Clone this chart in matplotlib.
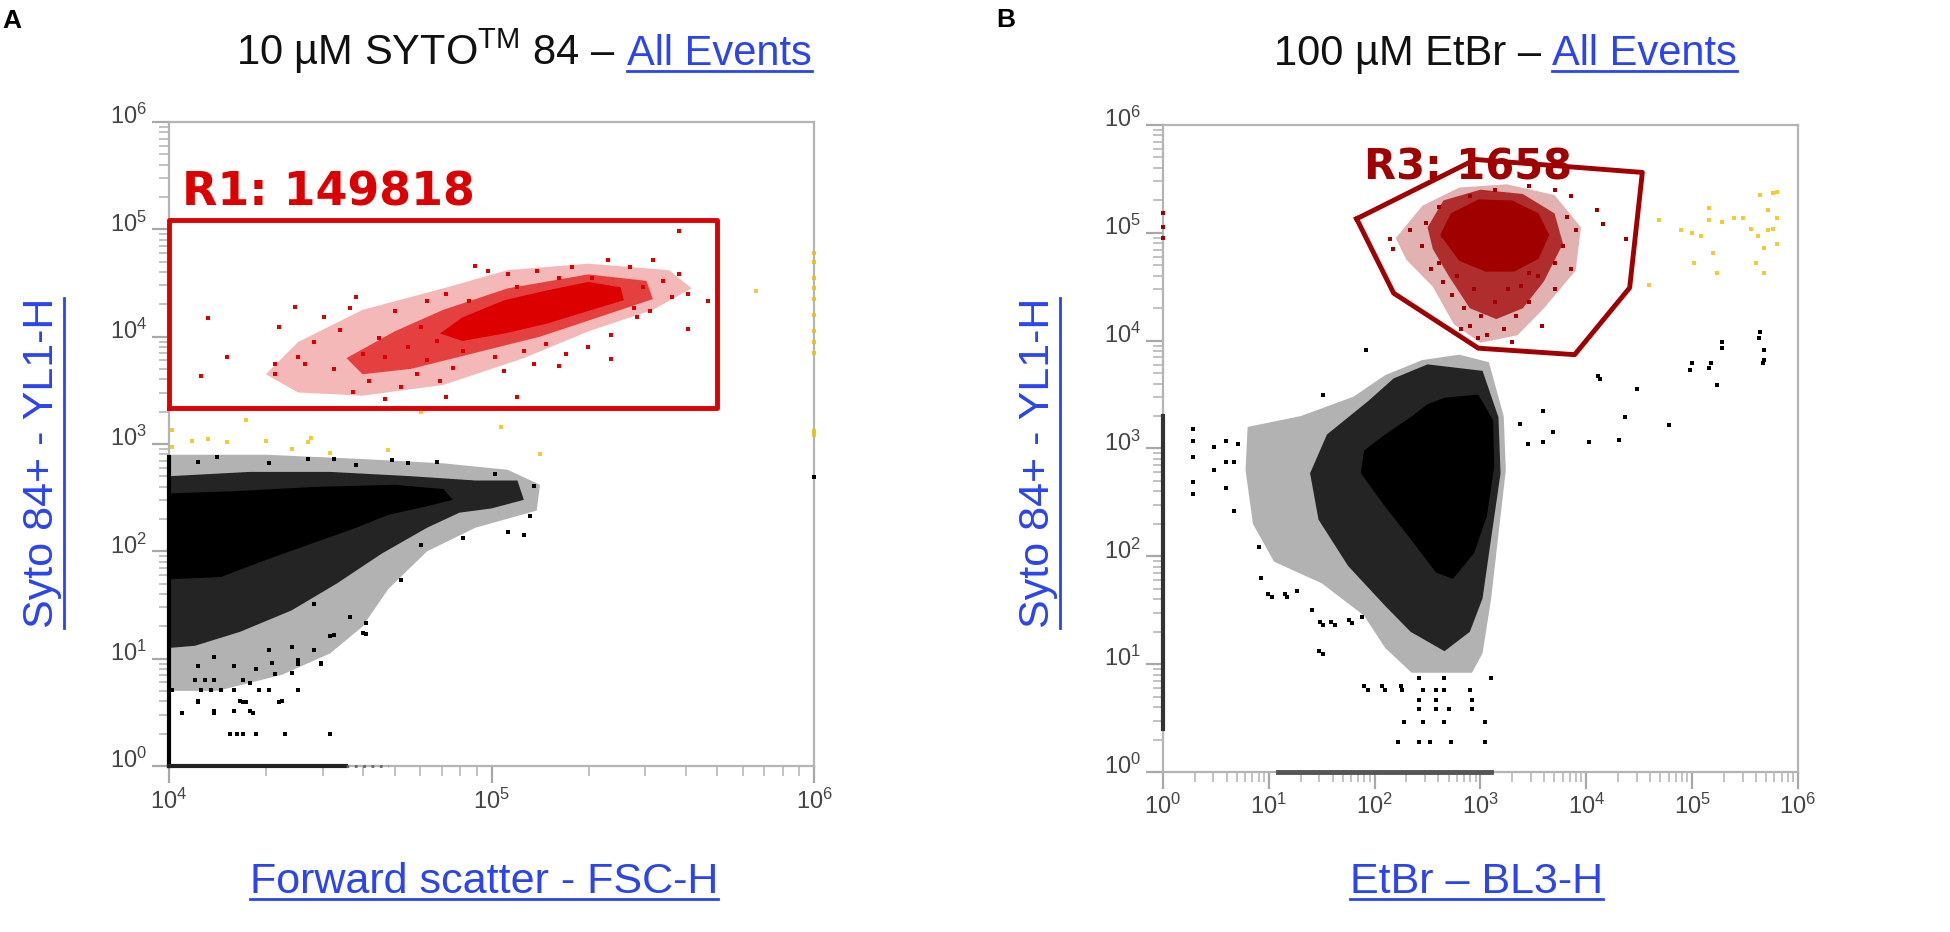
import numpy as np
import matplotlib.pyplot as plt
from matplotlib.lines import Line2D
from matplotlib.ticker import FixedLocator, NullFormatter
from matplotlib.transforms import ScaledTranslation

plt.rcParams['font.family'] = ['Liberation Sans', 'DejaVu Sans']
plt.rcParams['mathtext.fontset'] = 'custom'
plt.rcParams['mathtext.rm'] = 'Liberation Sans'
plt.rcParams['mathtext.it'] = 'Liberation Sans:italic'
plt.rcParams['mathtext.bf'] = 'Liberation Sans:bold'

# all values below are log10 readings: [log x, log y]

# panel A - SYTO 84, FSC-H vs YL1-H
a_black_core = [[4.00, 2.54], [4.20, 2.56], [4.45, 2.60], [4.70, 2.62], [4.85, 2.58],
                [4.88, 2.48], [4.80, 2.42], [4.68, 2.34], [4.58, 2.22], [4.44, 2.07],
                [4.30, 1.92], [4.16, 1.76], [4.00, 1.74]]
a_black_mid = [[4.00, 2.70], [4.25, 2.74], [4.50, 2.74], [4.75, 2.70], [4.95, 2.66],
               [5.08, 2.66], [5.10, 2.48], [5.00, 2.40], [4.90, 2.36], [4.80, 2.22],
               [4.66, 1.98], [4.52, 1.70], [4.38, 1.45], [4.22, 1.25], [4.08, 1.12],
               [4.00, 1.10]]
a_black_light = [[4.00, 2.90], [4.30, 2.90], [4.60, 2.86], [4.85, 2.82], [5.05, 2.76],
                 [5.15, 2.62], [5.14, 2.38], [4.95, 2.22], [4.80, 2.00], [4.68, 1.65],
                 [4.60, 1.30], [4.50, 1.05], [4.35, 0.85], [4.15, 0.70], [4.00, 0.70]]
a_black_pts = [[4.09, 2.83], [4.15, 2.88], [4.31, 2.82], [4.43, 2.86], [4.51, 2.86],
               [4.58, 2.80], [4.69, 2.85], [4.74, 2.82], [4.83, 2.83], [5.01, 2.72],
               [5.13, 2.61], [5.12, 2.33], [5.05, 2.18], [5.10, 2.15], [4.91, 2.12],
               [4.78, 2.06], [4.72, 1.73], [4.61, 1.33], [4.61, 1.23], [4.51, 1.22],
               [4.47, 0.95], [4.40, 0.95], [4.33, 0.86], [4.25, 0.77], [4.31, 0.71],
               [4.20, 0.71], [4.13, 0.71], [4.09, 0.61], [4.11, 0.80], [4.22, 0.61],
               [4.35, 0.61], [4.14, 0.51], [4.20, 0.51], [4.25, 0.51], [4.38, 1.11],
               [4.45, 1.08], [4.56, 1.39], [4.45, 1.51],
               [4.09, 0.93], [4.14, 0.80], [4.20, 0.93], [4.23, 0.80], [4.27, 0.90],
               [4.32, 0.96], [4.38, 0.87], [4.40, 0.99], [4.47, 0.96], [4.50, 1.21],
               [4.60, 1.24], [4.14, 1.02], [4.31, 1.08], [4.08, 0.80],
               [4.01, 0.71], [4.10, 0.71], [4.16, 0.71], [4.28, 0.71], [4.40, 0.71],
               [4.09, 0.60], [4.23, 0.60], [4.24, 0.60], [4.34, 0.60],
               [4.04, 0.49], [4.14, 0.49], [4.26, 0.49],
               [4.19, 0.30], [4.21, 0.30], [4.23, 0.30], [4.27, 0.30], [4.36, 0.30],
               [4.50, 0.30], [6.00, 2.69]]
a_wall_y = [0.00, 2.88]          # events piled on x = 10^4
a_floor_x = [4.00, 4.55]         # events piled on y = 10^0
a_floor_faint_x = [4.55, 4.68]

a_red_core = [[4.84, 4.03], [4.91, 4.18], [5.04, 4.34], [5.17, 4.43], [5.30, 4.51],
              [5.40, 4.46], [5.41, 4.34], [5.30, 4.24], [5.17, 4.12], [5.04, 4.03],
              [4.91, 3.96]]
a_red_mid = [[4.55, 3.80], [4.70, 4.05], [4.85, 4.25], [5.05, 4.45], [5.30, 4.58],
             [5.48, 4.52], [5.50, 4.35], [5.35, 4.20], [5.15, 4.00], [4.95, 3.85],
             [4.75, 3.70], [4.60, 3.65]]
a_red_light = [[4.30, 3.65], [4.40, 3.95], [4.60, 4.25], [4.85, 4.45], [5.05, 4.62],
               [5.30, 4.68], [5.55, 4.62], [5.62, 4.45], [5.50, 4.25], [5.30, 4.05],
               [5.10, 3.80], [4.85, 3.55], [4.60, 3.45], [4.40, 3.48]]
a_red_pts = [[4.12, 4.17], [4.18, 3.81], [4.10, 3.63], [5.58, 4.98], [5.67, 4.33],
             [5.61, 4.07], [5.37, 3.79], [5.21, 3.73], [5.08, 3.44], [4.86, 3.44],
             [4.67, 3.42], [4.57, 3.48], [4.33, 3.65], [4.33, 3.75], [4.34, 4.09],
             [4.39, 4.28], [4.40, 3.81], [4.42, 3.75], [4.45, 3.95], [4.48, 4.18],
             [4.51, 3.70], [4.53, 4.06], [4.56, 4.27], [4.58, 4.37], [4.60, 3.84],
             [4.62, 3.59], [4.65, 3.99], [4.67, 3.81], [4.70, 4.24], [4.72, 3.53],
             [4.74, 3.90], [4.77, 3.65], [4.78, 4.09], [4.80, 4.33], [4.80, 3.78],
             [4.83, 3.96], [4.84, 3.59], [4.86, 4.40], [4.88, 3.71], [4.91, 3.87],
             [4.93, 4.33], [4.95, 4.66], [4.99, 4.61], [5.01, 3.81], [5.04, 3.68],
             [5.05, 4.58], [5.08, 4.46], [5.10, 3.87], [5.13, 3.75], [5.14, 4.61],
             [5.17, 3.93], [5.21, 4.55], [5.23, 3.84], [5.25, 4.65], [5.30, 3.90],
             [5.31, 4.55], [5.36, 4.71], [5.37, 4.02], [5.43, 4.65], [5.44, 4.27],
             [5.47, 4.46], [5.50, 4.71], [5.53, 4.52], [5.56, 4.37], [5.58, 4.58],
             [5.61, 4.40], [5.49, 4.24], [5.45, 4.18]]
a_yellow_pts = [[4.01, 2.97], [4.01, 3.13], [4.07, 3.03], [4.12, 3.05], [4.18, 3.02],
                [4.24, 3.22], [4.30, 3.03], [4.38, 2.95], [4.43, 3.02], [4.44, 3.06],
                [4.50, 2.92], [4.68, 2.94], [5.03, 3.16], [5.15, 2.91], [4.78, 3.30],
                [5.82, 4.43], [6.00, 3.08], [6.00, 3.12], [6.00, 3.85], [6.00, 3.95],
                [6.00, 4.05], [6.00, 4.20], [6.00, 4.35], [6.00, 4.45], [6.00, 4.55],
                [6.00, 4.70], [6.00, 4.78]]
a_gate_x = [4.00, 5.70]
a_gate_y = [3.34, 5.09]
a_gate_label = 'R1: 149818'

# panel B - EtBr, BL3-H vs YL1-H
b_black_core = [[2.66, 3.47], [2.98, 3.50], [3.12, 3.26], [3.13, 2.83], [3.06, 2.37],
                [2.94, 2.03], [2.74, 1.79], [2.58, 1.85], [2.34, 2.16], [2.10, 2.46],
                [1.87, 2.77], [1.90, 2.98], [2.10, 3.13], [2.34, 3.29], [2.50, 3.41]]
b_black_mid = [[2.50, 3.78], [3.02, 3.72], [3.17, 3.29], [3.19, 2.77], [3.10, 2.16],
               [3.02, 1.61], [2.90, 1.30], [2.66, 1.12], [2.34, 1.30], [2.10, 1.54],
               [1.75, 1.91], [1.47, 2.34], [1.39, 2.77], [1.55, 3.13], [1.94, 3.44],
               [2.18, 3.65]]
b_black_light = [[0.80, 3.20], [1.30, 3.30], [1.80, 3.48], [2.10, 3.68], [2.45, 3.82],
                 [2.80, 3.87], [3.08, 3.80], [3.22, 3.30], [3.24, 2.80], [3.17, 2.20],
                 [3.10, 1.60], [3.02, 1.10], [2.92, 0.92], [2.35, 0.92], [2.10, 1.15],
                 [1.90, 1.45], [1.50, 1.75], [1.05, 1.95], [0.85, 2.30], [0.78, 2.80]]
b_black_pts = [[3.37, 3.23], [3.59, 3.06], [3.69, 3.15], [4.03, 3.06], [4.31, 3.08],
               [4.37, 3.29], [4.78, 3.22], [4.13, 3.64], [4.48, 3.55], [4.98, 3.73],
               [5.16, 3.75], [5.24, 3.59], [5.28, 3.93], [5.63, 4.02], [5.67, 3.79],
               [3.45, 3.04], [3.59, 3.35], [1.92, 3.91], [1.51, 3.50], [5.64, 4.08],
               [5.68, 3.91], [5.28, 3.99], [5.18, 3.79], [5.00, 3.79], [5.68, 3.82],
               [4.11, 3.67],
               [0.28, 3.18], [0.28, 3.07], [0.28, 2.92], [0.28, 2.69], [0.28, 2.58],
               [0.48, 3.01], [0.48, 2.80], [0.60, 3.07], [0.60, 2.87], [0.67, 2.87],
               [0.67, 2.42], [0.60, 2.63], [0.71, 3.04], [0.91, 2.09], [0.93, 1.80],
               [1.03, 1.62], [1.17, 1.62], [1.27, 1.68], [1.51, 1.09], [1.51, 1.36],
               [1.63, 1.36], [1.79, 1.38], [0.99, 1.65], [1.15, 1.65], [1.41, 1.50],
               [1.48, 1.39], [1.59, 1.39], [1.76, 1.41], [1.88, 1.44], [1.47, 1.12],
               [2.42, 0.87], [2.66, 0.87], [3.10, 0.87], [1.90, 0.80], [2.07, 0.80],
               [2.25, 0.80], [1.94, 0.76], [2.10, 0.76], [2.26, 0.76], [2.46, 0.76],
               [2.58, 0.76], [2.66, 0.76], [2.90, 0.76], [2.42, 0.67], [2.58, 0.67],
               [2.92, 0.67], [2.42, 0.58], [2.58, 0.58], [2.70, 0.58], [2.92, 0.58],
               [2.28, 0.46], [2.46, 0.46], [2.66, 0.46], [3.04, 0.46], [2.22, 0.28],
               [2.42, 0.28], [2.52, 0.28], [2.72, 0.28], [3.04, 0.28]]
b_wall_y = [0.40, 3.30]          # events piled on x = 10^0
b_floor_x = [1.09, 3.10]         # events piled on y = 10^0

b_red_core = [[2.62, 4.98], [2.72, 5.18], [2.98, 5.31], [3.30, 5.30], [3.55, 5.18],
              [3.65, 4.98], [3.55, 4.76], [3.32, 4.64], [3.05, 4.64], [2.80, 4.74]]
b_red_mid = [[2.50, 5.05], [2.65, 5.30], [3.00, 5.40], [3.40, 5.36], [3.70, 5.18],
             [3.78, 4.90], [3.60, 4.55], [3.40, 4.30], [3.15, 4.20], [2.90, 4.30],
             [2.70, 4.60], [2.55, 4.85]]
b_red_light = [[2.20, 4.95], [2.45, 5.25], [2.80, 5.42], [3.25, 5.45], [3.70, 5.35],
               [3.95, 5.05], [3.90, 4.65], [3.60, 4.30], [3.35, 4.05], [3.00, 3.98],
               [2.75, 4.15], [2.55, 4.50], [2.30, 4.75]]
b_red_pts = [[2.15, 4.94], [2.17, 4.85], [2.33, 5.03], [2.45, 4.88], [2.49, 5.09],
             [2.53, 4.66], [2.61, 5.24], [2.65, 4.54], [2.73, 4.42], [2.78, 4.60],
             [2.84, 4.30], [2.90, 4.14], [2.94, 4.48], [3.01, 4.23], [3.06, 4.05],
             [3.14, 4.36], [3.22, 4.11], [3.26, 4.48], [3.34, 4.23], [3.38, 4.51],
             [3.46, 4.36], [3.54, 4.60], [3.58, 4.14], [3.70, 4.72], [3.78, 4.88],
             [3.82, 5.15], [3.86, 5.34], [3.90, 5.03], [4.10, 5.21], [4.16, 5.08],
             [4.38, 4.94], [3.70, 5.40], [3.46, 5.43], [3.14, 5.40], [2.90, 5.34],
             [2.73, 5.15], [2.65, 4.97], [3.30, 3.99], [2.98, 4.02], [2.82, 4.11],
             [3.46, 4.63], [2.61, 4.72], [3.70, 4.48], [3.86, 4.66],
             [0.00, 4.95], [0.00, 5.05], [0.00, 5.18]]
b_yellow_pts = [[4.69, 5.12], [4.90, 5.03], [5.00, 5.00], [5.16, 5.23], [5.16, 5.12],
                [5.28, 5.10], [5.40, 5.14], [5.48, 5.14], [5.64, 5.35], [5.76, 5.37],
                [5.80, 5.38], [5.72, 5.21], [5.80, 5.14], [5.72, 5.03], [5.76, 5.04],
                [5.68, 4.86], [5.80, 4.90], [5.62, 4.97], [5.56, 5.04], [5.20, 4.81],
                [5.02, 4.72], [5.24, 4.63], [5.60, 4.72], [5.68, 4.63], [4.59, 4.52],
                [5.08, 4.97]]
b_gate = [[1.83, 5.13], [2.95, 5.68], [4.53, 5.56], [4.41, 4.49], [3.89, 3.87],
          [2.98, 3.93], [2.18, 4.44]]
b_gate_label = 'R3: 1658'

BLUE = '#2a44f0'
RED_A = '#dd0000'
RED_B = '#a00000'
YELLOW = '#f0c000'


def xy(pts):
    arr = np.asarray(pts, dtype=float)
    return 10 ** arr[:, 0], 10 ** arr[:, 1]


def cloud(ax, light, mid, core, pts, color, a_light, a_mid):
    ax.fill(*xy(light), color=color, alpha=a_light, lw=0, zorder=2)
    ax.fill(*xy(mid), color=color, alpha=a_mid, lw=0, zorder=3)
    ax.fill(*xy(core), color=color, lw=0, zorder=4)
    ax.scatter(*xy(pts), s=5, marker='s', color=color, lw=0, zorder=5, clip_on=False)


def style(ax, xdec, ydec):
    ax.set_xscale('log')
    ax.set_yscale('log')
    ax.set_xlim(10.0 ** xdec[0], 10.0 ** xdec[-1])
    ax.set_ylim(10.0 ** ydec[0], 10.0 ** ydec[-1])
    for s in ax.spines.values():
        s.set_color('#b4b4b4')
        s.set_linewidth(1.6)
    for axis, decs in ((ax.xaxis, xdec), (ax.yaxis, ydec)):
        axis.set_major_locator(FixedLocator([10.0 ** d for d in decs]))
        axis.set_minor_locator(FixedLocator([k * 10.0 ** d for d in decs[:-1] for k in range(2, 10)]))
        axis.set_minor_formatter(NullFormatter())
    ax.set_xticklabels([f'$10^{{{d}}}$' for d in xdec])
    ax.set_yticklabels([f'$10^{{{d}}}$' for d in ydec])
    ax.tick_params(which='major', length=12, width=1.6, color='#a8a8a8',
                   labelsize=17, labelcolor='#444444', pad=4)
    ax.tick_params(which='minor', length=7, width=1.2, color='#b8b8b8')
    for lab in ax.get_yticklabels():
        lab.set_transform(lab.get_transform() + ScaledTranslation(0, 0.08, fig.dpi_scale_trans))


fig = plt.figure(figsize=(19.5, 9.32), dpi=100)
axA = fig.add_axes([0.0867, 0.1781, 0.3308, 0.691])
axB = fig.add_axes([0.5964, 0.1717, 0.3256, 0.6942])

# ---- panel A
style(axA, [4, 5, 6], [0, 1, 2, 3, 4, 5, 6])
cloud(axA, a_black_light, a_black_mid, a_black_core, a_black_pts, 'black', 0.3, 0.8)
axA.plot([1e4, 1e4], 10.0 ** np.array(a_wall_y), color='black', lw=3, clip_on=False, zorder=5)
axA.plot(10.0 ** np.array(a_floor_x), [1, 1], color='#222222', lw=3, clip_on=False, zorder=5)
axA.plot(10.0 ** np.array(a_floor_faint_x), [1, 1], color='#666666', lw=2, ls=(0, (1, 2)),
         clip_on=False, zorder=5)
axA.scatter(*xy(a_yellow_pts), s=6, marker='s', color=YELLOW, lw=0, alpha=0.8, zorder=5,
            clip_on=False)
cloud(axA, a_red_light, a_red_mid, a_red_core, a_red_pts, RED_A, 0.28, 0.65)
gx, gy = 10.0 ** np.array(a_gate_x), 10.0 ** np.array(a_gate_y)
axA.plot([gx[0], gx[1], gx[1], gx[0], gx[0]], [gy[0], gy[0], gy[1], gy[1], gy[0]],
         color=RED_A, lw=3.5, zorder=6, clip_on=False)
axA.text(10 ** 4.04, 10 ** 5.22, a_gate_label, color=RED_A, fontsize=33,
         fontweight='bold', family='DejaVu Sans', va='baseline', zorder=7)

# ---- panel B
style(axB, [0, 1, 2, 3, 4, 5, 6], [0, 1, 2, 3, 4, 5, 6])
cloud(axB, b_black_light, b_black_mid, b_black_core, b_black_pts, 'black', 0.3, 0.8)
axB.plot([1, 1], 10.0 ** np.array(b_wall_y), color='#333333', lw=3, clip_on=False, zorder=5)
axB.plot(10.0 ** np.array(b_floor_x), [1, 1], color='#555555', lw=3.5, clip_on=False, zorder=5)
axB.scatter(*xy(b_yellow_pts), s=6, marker='s', color=YELLOW, lw=0, alpha=0.8, zorder=5)
cloud(axB, b_red_light, b_red_mid, b_red_core, b_red_pts, RED_B, 0.3, 0.75)
gx, gy = xy(b_gate)
axB.plot(np.append(gx, gx[0]), np.append(gy, gy[0]), color=RED_B, lw=3.5, zorder=6)
axB.text(10 ** 1.90, 10 ** 5.49, b_gate_label, color=RED_B, fontsize=30,
         fontweight='bold', family='DejaVu Sans', va='baseline', zorder=7)

# ---- titles, axis labels, panel letters
renderer = fig.canvas.get_renderer()
W, H = fig.bbox.width, fig.bbox.height


def underline_h(t):
    bb = t.get_window_extent(renderer)
    y = (bb.y0 + 3) / H
    fig.add_artist(Line2D([bb.x0 / W, bb.x1 / W], [y, y], color=BLUE, lw=2,
                          transform=fig.transFigure))


def underline_v(t):
    bb = t.get_window_extent(renderer)
    x = (bb.x1 + 2) / W
    fig.add_artist(Line2D([x, x], [bb.y0 / H, bb.y1 / H], color=BLUE, lw=2,
                          transform=fig.transFigure))


def title(xc, plain, link):
    t1 = fig.text(0, 0.930, plain, fontsize=30, color='#111111', va='baseline')
    t2 = fig.text(0, 0.930, link, fontsize=30, color=BLUE, va='baseline')
    w1 = t1.get_window_extent(renderer).width / W
    w2 = t2.get_window_extent(renderer).width / W
    x0 = xc - (w1 + 0.006 + w2) / 2
    t1.set_x(x0)
    t2.set_x(x0 + w1 + 0.006)
    underline_h(t2)


title(0.2687, '10 µM SYTO$^{\\mathregular{TM}}$ 84 \u2013', 'All Events')
title(0.772, '100 µM EtBr \u2013', 'All Events')

xa = fig.text(0.2482, 0.0418, 'Forward scatter - FSC-H', fontsize=31, color=BLUE,
              ha='center', va='baseline')
xb = fig.text(0.7574, 0.0418, 'EtBr \u2013 BL3-H', fontsize=31, color=BLUE,
              ha='center', va='baseline')
ya = fig.text(0.0318, 0.503, 'Syto 84+ - YL1-H', fontsize=31, color=BLUE,
              rotation=90, ha='right', va='center')
yb = fig.text(0.5426, 0.503, 'Syto 84+ - YL1-H', fontsize=31, color=BLUE,
              rotation=90, ha='right', va='center')
for t in (xa, xb):
    underline_h(t)
for t in (ya, yb):
    underline_v(t)

fig.text(0.001, 0.970, 'A', fontsize=19, fontweight='bold', va='baseline')
fig.text(0.511, 0.971, 'B', fontsize=19, fontweight='bold', va='baseline')

fig.savefig('out.png', dpi=100, facecolor='white')
